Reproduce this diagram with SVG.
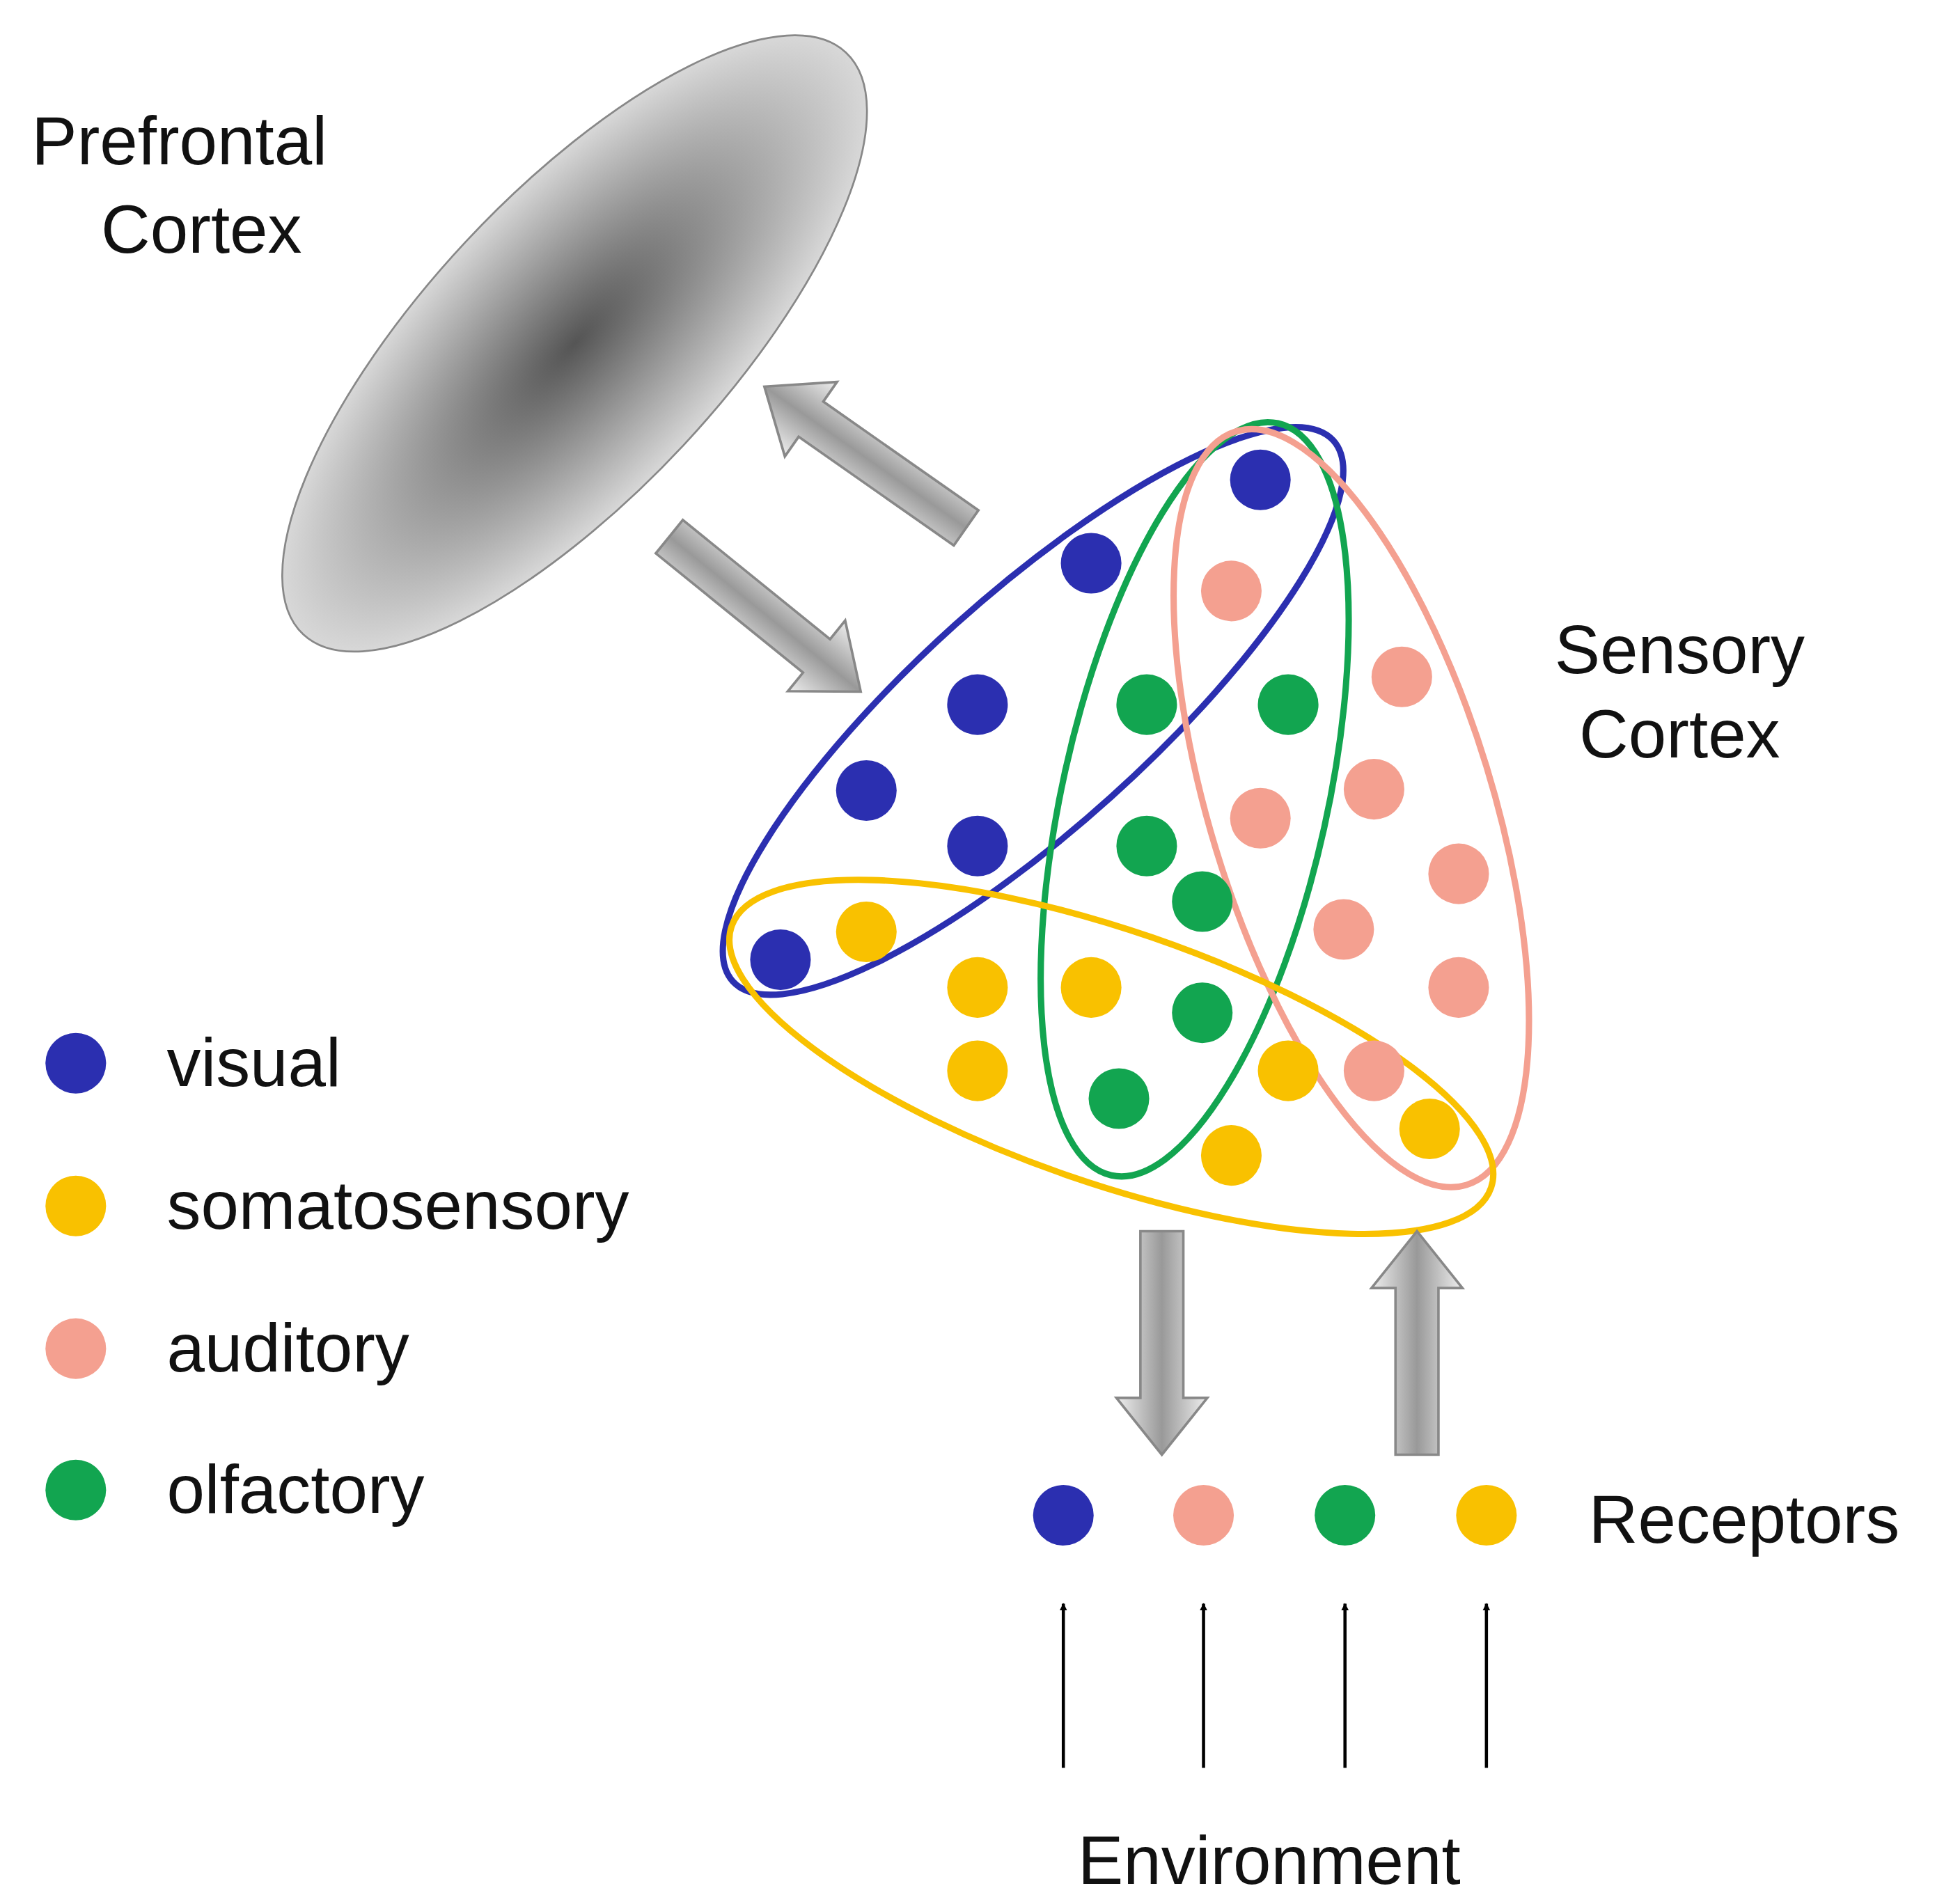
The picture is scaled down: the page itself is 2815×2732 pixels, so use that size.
<svg xmlns="http://www.w3.org/2000/svg" width="2815" height="2732" viewBox="0 0 2815 2732">
<defs>
<radialGradient id="pfc" cx="0.5" cy="0.5" r="0.5"><stop offset="0" stop-color="#555"/><stop offset="1" stop-color="#d8d8d8"/></radialGradient>
<linearGradient id="ag" x1="0" y1="0" x2="0" y2="1"><stop offset="0" stop-color="#eee"/><stop offset="0.5" stop-color="#999"/><stop offset="1" stop-color="#eee"/></linearGradient>
<marker id="ah" viewBox="0 0 10 10" refX="9" refY="5" markerWidth="6" markerHeight="6" markerUnits="userSpaceOnUse" orient="auto"><path d="M0,0 L10,5 L0,10 Z" fill="#000"/></marker>
</defs>
<style>
text{font-family:"Liberation Sans",Arial,sans-serif;font-size:54px;fill:#111}
.b{fill:#2b2fb0}.y{fill:#f9c100}.p{fill:#f4a090}.g{fill:#12a550}
.ring{fill:none;stroke-width:5}
.blk{fill:url(#ag);stroke:#888;stroke-width:2}
</style>
<rect width="2815" height="2732" fill="#fff"/>
<g transform="scale(1.8138)">
<g id="prefrontal">
<ellipse cx="455" cy="272" rx="315" ry="118" transform="rotate(-47 455 272)" fill="url(#pfc)" stroke="#888" stroke-width="1.5"/>
<text x="25" y="130">Prefrontal</text><text x="80" y="200">Cortex</text>
</g>
<g id="sensory">
<ellipse class="ring" cx="818" cy="563" rx="320" ry="92" transform="rotate(-42 818 563)" stroke="#2b2fb0"/>
<ellipse class="ring" cx="946" cy="633" rx="305" ry="105" transform="rotate(-77.5 946 633)" stroke="#12a550"/>
<ellipse class="ring" cx="1070" cy="640" rx="312" ry="112" transform="rotate(73 1070 640)" stroke="#f4a090"/>
<ellipse class="ring" cx="880" cy="837" rx="318" ry="100" transform="rotate(19 880 837)" stroke="#f9c100"/>
<g>
<circle class="b" cx="998" cy="380" r="24"/><circle class="b" cx="864" cy="446" r="24"/><circle class="b" cx="774" cy="558" r="24"/><circle class="b" cx="686" cy="626" r="24"/><circle class="b" cx="774" cy="670" r="24"/><circle class="b" cx="618" cy="760" r="24"/>
<circle class="p" cx="975" cy="468" r="24"/><circle class="p" cx="1110" cy="536" r="24"/><circle class="p" cx="998" cy="648" r="24"/><circle class="p" cx="1088" cy="625" r="24"/><circle class="p" cx="1155" cy="692" r="24"/><circle class="p" cx="1064" cy="736" r="24"/><circle class="p" cx="1155" cy="782" r="24"/><circle class="p" cx="1088" cy="848" r="24"/>
<circle class="g" cx="908" cy="558" r="24"/><circle class="g" cx="1020" cy="558" r="24"/><circle class="g" cx="908" cy="670" r="24"/><circle class="g" cx="952" cy="714" r="24"/><circle class="g" cx="952" cy="802" r="24"/><circle class="g" cx="886" cy="870" r="24"/>
<circle class="y" cx="686" cy="738" r="24"/><circle class="y" cx="774" cy="782" r="24"/><circle class="y" cx="864" cy="782" r="24"/><circle class="y" cx="774" cy="848" r="24"/><circle class="y" cx="1020" cy="848" r="24"/><circle class="y" cx="975" cy="915" r="24"/><circle class="y" cx="1132" cy="894" r="24"/>
</g>
<text x="1330" y="533" text-anchor="middle">Sensory</text><text x="1330" y="600" text-anchor="middle">Cortex</text>
</g>
<g id="legend">
<circle class="b" cx="60" cy="842" r="24"/><text x="132" y="860">visual</text>
<circle class="y" cx="60" cy="955" r="24"/><text x="132" y="973">somatosensory</text>
<circle class="p" cx="60" cy="1068" r="24"/><text x="132" y="1086">auditory</text>
<circle class="g" cx="60" cy="1180" r="24"/><text x="132" y="1198">olfactory</text>
</g>
<g id="receptors">
<circle class="b" cx="842" cy="1200" r="24"/><circle class="p" cx="953" cy="1200" r="24"/><circle class="g" cx="1065" cy="1200" r="24"/><circle class="y" cx="1177" cy="1200" r="24"/>
<text x="1258" y="1222">Receptors</text>
</g>
<g id="environment"><text x="1005" y="1492" text-anchor="middle">Environment</text></g>
<g id="connectors">
<path class="blk" d="M0,-17 L150,-17 L150,-36 L195,0 L150,36 L150,17 L0,17 Z" transform="translate(765,418) rotate(-145)"/>
<path class="blk" d="M0,-17 L150,-17 L150,-36 L195,0 L150,36 L150,17 L0,17 Z" transform="translate(530,425) rotate(39)"/>
<path class="blk" d="M0,-17 L132,-17 L132,-36 L177,0 L132,36 L132,17 L0,17 Z" transform="translate(920,975) rotate(90)"/>
<path class="blk" d="M0,-17 L132,-17 L132,-36 L177,0 L132,36 L132,17 L0,17 Z" transform="translate(1122,1152) rotate(-90)"/>
<g stroke="#000" stroke-width="2.5" marker-end="url(#ah)">
<line x1="842" y1="1400" x2="842" y2="1270"/><line x1="953" y1="1400" x2="953" y2="1270"/><line x1="1065" y1="1400" x2="1065" y2="1270"/><line x1="1177" y1="1400" x2="1177" y2="1270"/>
</g>
</g>
</g>
</svg>
